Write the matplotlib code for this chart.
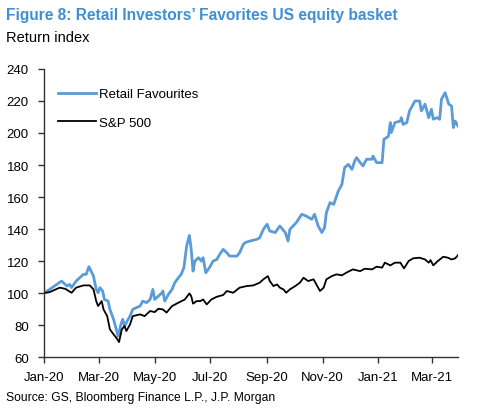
import numpy as np
import pandas as pd
import matplotlib
matplotlib.use("Agg")
import matplotlib.pyplot as plt
import matplotlib.dates as mdates

plt.rcParams['font.family'] = ['Liberation Sans', 'DejaVu Sans']

# Datos (dias desde 2020-01-01, valor del indice)
retail_day = [0, 6, 19, 25, 28, 30, 35, 43, 46, 49, 54, 57, 59, 61, 64, 66, 70, 72, 76, 79,
              81, 84, 86, 88, 92, 94, 97, 101, 105, 108, 112, 116, 119, 121, 125, 129, 130,
              132, 136, 140, 143, 147, 150, 153, 156, 159, 161, 163, 165, 169, 172, 174, 177,
              181, 185, 189, 192, 196, 200, 203, 211, 214, 218, 220, 225, 233, 236, 240, 244,
              247, 253, 258, 264, 267, 269, 276, 282, 287, 293, 296, 300, 304, 307, 309, 313,
              317, 322, 326, 329, 333, 337, 340, 342, 346, 349, 353, 359, 360, 364, 370, 372,
              375, 377, 379, 380, 384, 390, 391, 393, 397, 400, 406, 411, 413, 417, 421, 424,
              426, 430, 433, 435, 439, 443, 446, 448, 450, 453]
retail_val = [100, 102.3, 107.5, 104.4, 105.4, 103.4, 107.5, 111.7, 111.7, 116.5, 110.6, 102.3,
              100.2, 103.4, 101.3, 96, 95, 89.8, 83.6, 77.3, 73.1, 80.4, 83.6, 79.4, 83.6, 85.6,
              89.8, 90.9, 91.9, 95, 94, 96, 102.3, 96, 98.1, 100.2, 101.3, 95, 99.2, 102.3, 106.5,
              109.6, 111.7, 115.9, 129.4, 136, 127.3, 113.7, 120, 122.1, 120, 122.1, 112.7, 115.9,
              120, 121, 124, 127.3, 125.2, 123.1, 123.1, 125.2, 130.4, 131.5, 132.5, 133.6, 134.6,
              139.8, 143, 138.8, 137.8, 141.9, 137.8, 132.5, 139.8, 144, 149.2, 148.1, 146.1,
              149.2, 141.9, 137.8, 140.9, 150.3, 156.5, 155.4, 163.7, 167.9, 178.4, 180.4, 177.3,
              182.5, 184.6, 181.5, 179.4, 183.6, 183.6, 185.6, 181.5, 181.5, 196.1, 197.1, 198.1,
              206.5, 200.3, 206.5, 207.5, 209.6, 205.4, 206.5, 213.8, 220, 220, 213.8, 218, 209.6,
              214.8, 208.6, 209.6, 208.6, 221.1, 225.2, 218, 216.9, 203.4, 207.5, 204.4]

spx_day = [0, 6, 17, 23, 30, 35, 43, 50, 54, 57, 59, 63, 65, 69, 72, 76, 79, 82, 85, 88, 90,
           94, 97, 105, 110, 116, 121, 125, 130, 134, 140, 147, 154, 159, 161, 163, 167, 171,
           174, 178, 183, 189, 196, 200, 207, 214, 222, 229, 236, 240, 245, 247, 251, 255, 258,
           262, 265, 269, 275, 280, 284, 289, 295, 298, 302, 306, 309, 315, 320, 326, 331, 338,
           346, 351, 359, 364, 370, 373, 379, 384, 390, 394, 399, 404, 411, 417, 421, 423, 426,
           431, 437, 442, 446, 450, 453]
spx_val = [100, 100.6, 103.4, 102.7, 100.2, 103.4, 104.8, 104.8, 102.3, 95, 91.9, 95, 89.8,
           85.6, 77.3, 74.2, 72.1, 69.4, 77.3, 79.4, 76.3, 80.4, 85.6, 86.7, 85.6, 88.8, 88.1,
           90.2, 89.8, 87.8, 91.9, 94, 96, 99.8, 98.1, 93.4, 95, 95, 96, 92.9, 96, 97.7, 98.8,
           101.3, 100.2, 103.4, 104.4, 104.8, 106.5, 108.6, 110.6, 107.5, 104.4, 105.4, 103.4,
           102.3, 100.2, 102.3, 104.4, 106.5, 109.6, 107.5, 108.6, 105.4, 101.3, 103.4, 108.6,
           110.6, 111.7, 111.1, 112.8, 114.8, 113.7, 115.2, 114.8, 116.5, 115.9, 119, 117.3, 119,
           119, 115.4, 120, 121.7, 122.1, 121, 119, 120.6, 117.3, 120, 122.7, 122.1, 121, 121.7,
           123.6]

start = pd.Timestamp('2020-01-01')
retail_dates = start + pd.to_timedelta(retail_day, unit='D')
spx_dates = start + pd.to_timedelta(spx_day, unit='D')

azul = '#5a9bd8'
fig = plt.figure(figsize=(4.8, 4.14), dpi=100)
ax = fig.add_axes([0.092, 0.135, 0.862, 0.696])

ax.plot(retail_dates, retail_val, color=azul, lw=2.0, label='Retail Favourites')
ax.plot(spx_dates, spx_val, color='black', lw=1.3, label='S&P 500')

ax.set_ylim(60, 240)
ax.set_yticks(range(60, 241, 20))
ax.set_xlim(start, start + pd.Timedelta(days=453))
ax.xaxis.set_major_locator(mdates.MonthLocator(bymonth=[1, 3, 5, 7, 9, 11]))
ax.xaxis.set_major_formatter(mdates.DateFormatter('%b-%y'))

for s in ['top', 'right']:
    ax.spines[s].set_visible(False)
for s in ['left', 'bottom']:
    ax.spines[s].set_color('#333333')
    ax.spines[s].set_linewidth(1.0)
ax.tick_params(axis='both', labelsize=9.5, length=4, width=1.0, color='#333333')
ax.tick_params(axis='y', pad=7)
ax.tick_params(axis='x', pad=6)

ax.legend(loc='upper left', bbox_to_anchor=(0.004, 0.975), frameon=False, fontsize=9.5,
          handlelength=2.9, handletextpad=0.25, labelspacing=1.25)

fig.text(0.0125, 0.963, 'Figure 8: Retail Investors\u2019 Favorites US equity basket',
         color='#3f8fd2', fontsize=11.2, fontweight='bold', va='center', ha='left')
fig.text(0.0125, 0.908, 'Return index', fontsize=10.5, va='center', ha='left')
fig.text(0.0125, 0.038, 'Source: GS, Bloomberg Finance L.P., J.P. Morgan', fontsize=8.7,
         va='center', ha='left')

fig.savefig('out.png', dpi=100)
